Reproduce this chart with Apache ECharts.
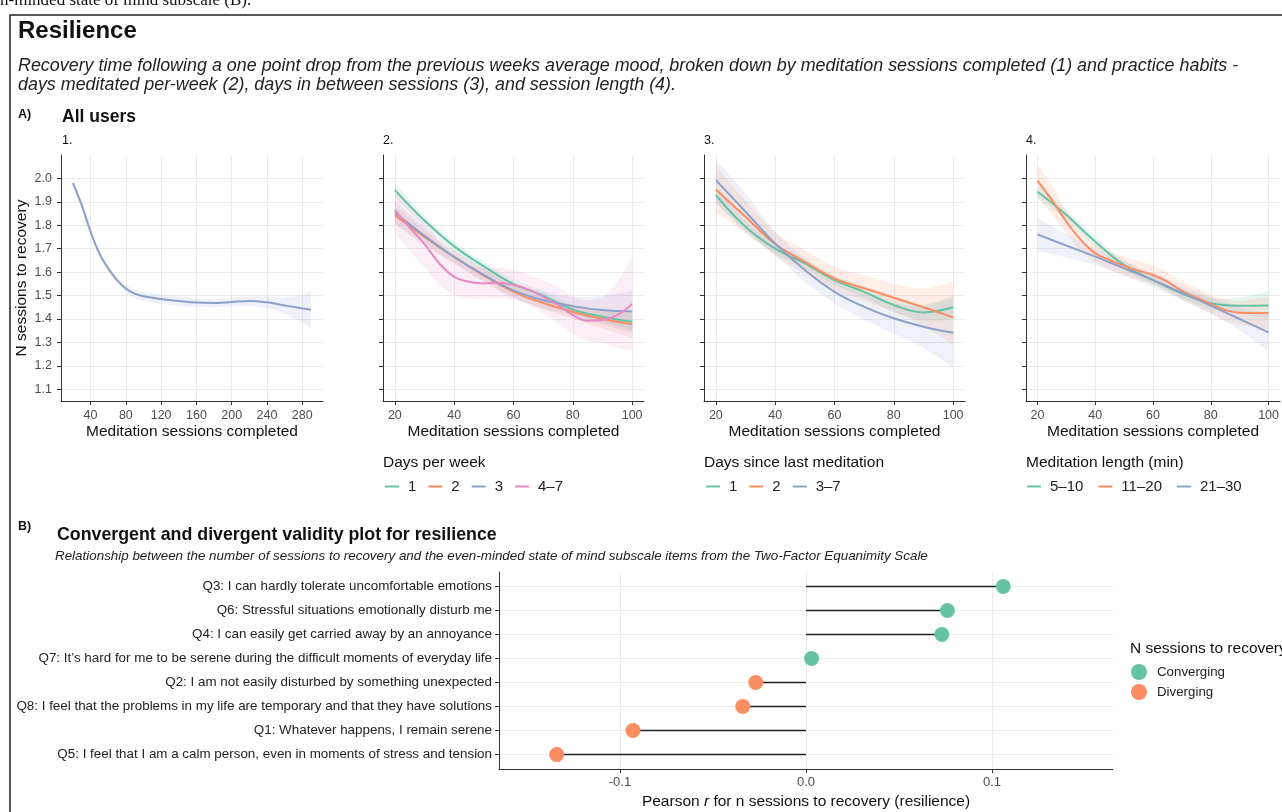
<!DOCTYPE html>
<html><head><meta charset="utf-8">
<script src="https://cdn.jsdelivr.net/npm/echarts@6/dist/echarts.min.js"></script>
<style>html,body{margin:0;padding:0;background:#fff}#c{width:1282px;height:812px}</style>
</head><body><div id="c"></div>
<script>
const FONT = '"Liberation Sans", Arial, Helvetica, sans-serif';
const SERIF = '"Liberation Serif", "Times New Roman", serif';

// ---------- Panel A data ----------
const yTicks = [1.1,1.2,1.3,1.4,1.5,1.6,1.7,1.8,1.9,2.0];
const p1Ticks = [40,80,120,160,200,240,280];
const pTicks = [20,40,60,80,100];

// Panel 1: all users
const p1X = [20,30,40,50,60,70,80,90,100,120,140,160,180,200,220,240,260,280,290];
const p1Mean = [1.98,1.886,1.773,1.68,1.616,1.566,1.53,1.508,1.497,1.485,1.477,1.470,1.468,1.473,1.477,1.471,1.458,1.445,1.44];
const p1Lo = [1.96,1.871,1.761,1.668,1.604,1.554,1.515,1.490,1.477,1.465,1.457,1.452,1.450,1.455,1.457,1.446,1.423,1.385,1.36];
const p1Hi = [2.0,1.901,1.785,1.692,1.628,1.578,1.545,1.526,1.517,1.505,1.497,1.488,1.486,1.491,1.497,1.496,1.493,1.505,1.52];

const xs10 = [20,30,40,50,60,70,80,90,100];
const xs5 = [20,25,30,35,40,45,50,55,60,65,70,75,80,85,90,95,100];

// Panel 2: days per week
const p2Names = ['1','2','3','4\u20137'];
const p2g1Mean = [1.95,1.82,1.71,1.625,1.549,1.50,1.44,1.41,1.388];
const p2g1Lo = [1.92,1.80,1.69,1.605,1.529,1.48,1.42,1.385,1.353];
const p2g1Hi = [1.98,1.84,1.73,1.645,1.569,1.52,1.46,1.435,1.423];
const p2g2Mean = [1.843,1.75,1.665,1.585,1.516,1.468,1.43,1.40,1.378];
const p2g2Lo = [1.803,1.72,1.64,1.56,1.491,1.443,1.40,1.36,1.318];
const p2g2Hi = [1.883,1.78,1.69,1.61,1.541,1.493,1.46,1.44,1.438];
const p2g3Mean = [1.855,1.755,1.665,1.588,1.522,1.48,1.455,1.438,1.432];
const p2g3Lo = [1.805,1.715,1.635,1.558,1.492,1.445,1.415,1.378,1.342];
const p2g3Hi = [1.905,1.795,1.695,1.618,1.552,1.515,1.495,1.498,1.522];
const p2g4Mean = [1.865,1.79,1.72,1.637,1.58,1.559,1.552,1.555,1.545,1.526,1.495,1.46,1.417,1.393,1.396,1.417,1.464];
const p2g4Lo = [1.765,1.69,1.62,1.547,1.50,1.489,1.487,1.49,1.48,1.461,1.425,1.385,1.337,1.308,1.296,1.277,1.264];
const p2g4Hi = [1.965,1.89,1.82,1.727,1.66,1.629,1.617,1.62,1.61,1.591,1.565,1.535,1.497,1.478,1.496,1.557,1.664];

// Panel 3: days since last meditation
const p3Names = ['1','2','3\u20137'];
const p3g1Mean = [1.929,1.794,1.70,1.637,1.566,1.516,1.46,1.428,1.45];
const p3g1Lo = [1.899,1.769,1.68,1.617,1.546,1.491,1.43,1.393,1.40];
const p3g1Hi = [1.959,1.819,1.72,1.657,1.586,1.541,1.49,1.463,1.50];
const p3g2Mean = [1.953,1.836,1.72,1.644,1.573,1.531,1.491,1.45,1.407];
const p3g2Lo = [1.853,1.766,1.67,1.594,1.523,1.476,1.431,1.37,1.287];
const p3g2Hi = [2.053,1.906,1.77,1.694,1.623,1.586,1.551,1.53,1.56];
const p3g3Mean = [1.993,1.858,1.722,1.609,1.516,1.452,1.403,1.367,1.341];
const p3g3Lo = [1.893,1.778,1.672,1.559,1.466,1.397,1.338,1.277,1.191];
const p3g3Hi = [2.08,1.938,1.772,1.659,1.566,1.507,1.468,1.457,1.491];

// Panel 4: meditation length
const p4Names = ['5\u201310','11\u201320','21\u201330'];
const p4g1Mean = [1.943,1.844,1.73,1.63,1.566,1.509,1.467,1.457,1.458];
const p4g1Lo = [1.913,1.824,1.71,1.61,1.546,1.489,1.442,1.422,1.398];
const p4g1Hi = [1.973,1.864,1.75,1.65,1.586,1.529,1.492,1.492,1.518];
const p4g2Mean = [1.99,1.907,1.815,1.737,1.68,1.652,1.626,1.606,1.588,1.559,1.52,1.492,1.464,1.438,1.427,1.426,1.426];
const p4g2Lo = [1.92,1.847,1.765,1.692,1.64,1.612,1.586,1.566,1.548,1.519,1.48,1.452,1.424,1.393,1.377,1.366,1.356];
const p4g2Hi = [2.06,1.967,1.865,1.782,1.72,1.692,1.666,1.646,1.628,1.599,1.56,1.532,1.504,1.483,1.477,1.486,1.496];
const p4g3Mean = [1.761,1.713,1.666,1.616,1.566,1.512,1.457,1.40,1.343];
const p4g3Lo = [1.691,1.663,1.631,1.586,1.536,1.482,1.422,1.35,1.263];
const p4g3Hi = [1.831,1.763,1.701,1.646,1.596,1.542,1.492,1.45,1.423];

// ---------- Panel B data ----------
const qLabels = [
  'Q3: I can hardly tolerate uncomfortable emotions',
  'Q6: Stressful situations emotionally disturb me',
  'Q4: I can easily get carried away by an annoyance',
  'Q7: It\u2019s hard for me to be serene during the difficult moments of everyday life',
  'Q2: I am not easily disturbed by something unexpected',
  'Q8: I feel that the problems in my life are temporary and that they have solutions',
  'Q1: Whatever happens, I remain serene',
  'Q5: I feel that I am a calm person, even in moments of stress and tension'
];
const qR = [0.106,0.076,0.073,0.003,-0.027,-0.034,-0.093,-0.134];
const qGroup = ['Converging','Converging','Converging','Converging','Diverging','Diverging','Diverging','Diverging'];
const rTicks = [-0.1,0,0.1];

// ---------- styles ----------
const C = {green:'#66C2A5', orange:'#FC8D62', blue:'#8DA0CB', pink:'#E78AC3'};
const AX = '#333';
const GRIDC = '#EBEBEB';
const LBL = '#4D4D4D';

const chart = echarts.init(document.getElementById('c'));

const grids = [
  {left:61, top:155, width:262, height:246},
  {left:383, top:155, width:261, height:246},
  {left:704, top:155, width:261, height:246},
  {left:1026, top:155, width:261, height:246},
  {left:499, top:572, width:614, height:197}
];

function xAxisPanel(gi, min, max, ticks) {
  return {type:'value', gridIndex:gi, min:min, max:max,
    name:'Meditation sessions completed', nameLocation:'middle', nameGap:23,
    nameTextStyle:{fontFamily:FONT, fontSize:15.5, color:'#111'},
    axisLine:{show:true, onZero:false, lineStyle:{color:AX, width:1}},
    axisTick:{show:true, length:4, lineStyle:{color:AX}, customValues:ticks},
    axisLabel:{show:true, margin:8, fontFamily:FONT, fontSize:12.5, color:LBL, customValues:ticks},
    splitLine:{show:true, lineStyle:{color:GRIDC, width:1}}};
}
function yAxisPanel(gi, showLabel) {
  const a = {type:'value', gridIndex:gi, min:1.05, max:2.1,
    axisLine:{show:true, onZero:false, lineStyle:{color:AX, width:1}},
    axisTick:{show:true, length:4, lineStyle:{color:AX}, customValues:yTicks},
    axisLabel:{show:showLabel, margin:9, fontFamily:FONT, fontSize:12.5, color:LBL, customValues:yTicks,
      formatter:function(v){return Number(v).toFixed(1);}},
    splitLine:{show:true, lineStyle:{color:GRIDC, width:1}}};
  if (showLabel) {
    a.name = 'N sessions to recovery'; a.nameLocation = 'middle'; a.nameGap = 31;
    a.nameTextStyle = {fontFamily:FONT, fontSize:15.5, color:'#111'};
  }
  return a;
}

function hexA(hex, a) {
  const n = parseInt(hex.slice(1), 16);
  return 'rgba(' + ((n >> 16) & 255) + ',' + ((n >> 8) & 255) + ',' + (n & 255) + ',' + a + ')';
}
// Catmull-Rom spline through screen points -> SVG cubic segments
function curveTo(p) {
  let s = '';
  for (let i = 0; i < p.length - 1; i++) {
    const p0 = p[i - 1] || p[i], p1 = p[i], p2 = p[i + 1], p3 = p[i + 2] || p[i + 1];
    const c1 = [p1[0] + (p2[0] - p0[0]) / 6, p1[1] + (p2[1] - p0[1]) / 6];
    const c2 = [p2[0] - (p3[0] - p1[0]) / 6, p2[1] - (p3[1] - p1[1]) / 6];
    s += ' C' + c1[0] + ',' + c1[1] + ' ' + c2[0] + ',' + c2[1] + ' ' + p2[0] + ',' + p2[1];
  }
  return s;
}

function smoothSeries(gi, name, xs, mean, lo, hi, color) {
  return [
    {type:'custom', name:'band ' + gi + ' ' + name, xAxisIndex:gi, yAxisIndex:gi, silent:true, z:1, clip:true,
      data:xs.map(function(x,i){return [x, lo[i], hi[i]];}),
      encode:{x:0, y:[1,2]},
      renderItem:function(params, api){
        if (params.dataIndex !== 0) return {type:'group', children:[]};
        const up = xs.map(function(x,i){return api.coord([x, hi[i]]);});
        const dn = xs.map(function(x,i){return api.coord([x, lo[i]]);}).reverse();
        const d = 'M' + up[0][0] + ',' + up[0][1] + curveTo(up) +
                  ' L' + dn[0][0] + ',' + dn[0][1] + curveTo(dn) + ' Z';
        return {type:'path', shape:{pathData:d}, style:{fill:hexA(color, 0.15), stroke:null}};
      }},
    {type:'line', name:name, xAxisIndex:gi, yAxisIndex:gi, smooth:0.4, symbol:'none',
      lineStyle:{color:color, width:2}, itemStyle:{color:color},
      data:xs.map(function(x,i){return [x, mean[i]];}), z:3}
  ];
}

let series = [];
series = series.concat(smoothSeries(0, 'All users', p1X, p1Mean, p1Lo, p1Hi, C.blue));
series = series.concat(smoothSeries(1, p2Names[0], xs10, p2g1Mean, p2g1Lo, p2g1Hi, C.green));
series = series.concat(smoothSeries(1, p2Names[1], xs10, p2g2Mean, p2g2Lo, p2g2Hi, C.orange));
series = series.concat(smoothSeries(1, p2Names[2], xs10, p2g3Mean, p2g3Lo, p2g3Hi, C.blue));
series = series.concat(smoothSeries(1, p2Names[3], xs5, p2g4Mean, p2g4Lo, p2g4Hi, C.pink));
series = series.concat(smoothSeries(2, p3Names[0], xs10, p3g1Mean, p3g1Lo, p3g1Hi, C.green));
series = series.concat(smoothSeries(2, p3Names[1], xs10, p3g2Mean, p3g2Lo, p3g2Hi, C.orange));
series = series.concat(smoothSeries(2, p3Names[2], xs10, p3g3Mean, p3g3Lo, p3g3Hi, C.blue));
series = series.concat(smoothSeries(3, p4Names[0], xs10, p4g1Mean, p4g1Lo, p4g1Hi, C.green));
series = series.concat(smoothSeries(3, p4Names[1], xs5, p4g2Mean, p4g2Lo, p4g2Hi, C.orange));
series = series.concat(smoothSeries(3, p4Names[2], xs10, p4g3Mean, p4g3Lo, p4g3Hi, C.blue));

// Panel B: lollipop segments
series.push({type:'custom', name:'segments', xAxisIndex:4, yAxisIndex:4, silent:true, z:2,
  data:qR.map(function(r,i){return [r, i+1];}),
  renderItem:function(params, api){
    const p0 = api.coord([0, api.value(1)]);
    const p1 = api.coord([api.value(0), api.value(1)]);
    return {type:'line', shape:{x1:p0[0], y1:p0[1], x2:p1[0], y2:p1[1]},
      style:{stroke:'#222', lineWidth:1.5}};
  }});
['Converging','Diverging'].forEach(function(g){
  series.push({type:'scatter', name:g, xAxisIndex:4, yAxisIndex:4, symbolSize:15, z:4,
    itemStyle:{color: g === 'Converging' ? C.green : C.orange, opacity:1},
    data:qR.map(function(r,i){return qGroup[i] === g ? [r, i+1] : null;}).filter(function(d){return d;})});
});

function legendPanel(names, left, gap) {
  return {data:names, left:left, top:479, orient:'horizontal', icon:'rect', itemWidth:14, itemHeight:2,
    itemGap:gap, padding:0, selectedMode:false,
    textStyle:{fontFamily:FONT, fontSize:15, color:'#222', padding:[0,0,0,4]}};
}

function txt(x, y, text, size, opts) {
  opts = opts || {};
  return {type:'text', x:x, y:y, silent:true, z:10,
    style:{text:text, fill:opts.fill || '#111', fontFamily:opts.family || FONT, fontSize:size,
      fontWeight:opts.weight || 'normal', fontStyle:opts.style || 'normal',
      align:opts.align || 'left', verticalAlign:opts.va || 'middle'}};
}

const graphics = [
  {type:'rect', silent:true, shape:{x:10, y:15, width:1400, height:900},
    style:{fill:'none', stroke:'#222', lineWidth:1.5}},
  txt(0, 9, 'n-minded state of mind subscale (B).', 17, {family:SERIF, va:'bottom'}),
  txt(18, 31, 'Resilience', 24, {weight:'bold'}),
  txt(18, 66, 'Recovery time following a one point drop from the previous weeks average mood, broken down by meditation sessions completed (1) and practice habits -', 17.9, {style:'italic', fill:'#222'}),
  txt(18, 85, 'days meditated per-week (2), days in between sessions (3), and session length (4).', 17.9, {style:'italic', fill:'#222'}),
  txt(18, 115, 'A)', 12.5, {weight:'bold'}),
  txt(62, 117, 'All users', 17.5, {weight:'bold'}),
  txt(62, 141, '1.', 12.5),
  txt(383, 141, '2.', 12.5),
  txt(704, 141, '3.', 12.5),
  txt(1026, 141, '4.', 12.5),
  txt(383, 463, 'Days per week', 15.5),
  txt(704, 463, 'Days since last meditation', 15.5),
  txt(1026, 463, 'Meditation length (min)', 15.5),
  txt(18, 527, 'B)', 12.5, {weight:'bold'}),
  txt(57, 535, 'Convergent and divergent validity plot for resilience', 17.8, {weight:'bold'}),
  txt(55, 556, 'Relationship between the number of sessions to recovery and the even-minded state of mind subscale items from the Two-Factor Equanimity Scale', 13.4, {style:'italic', fill:'#222'}),
  txt(1130, 649, 'N sessions to recovery', 15.5)
];

const option = {
  animation:false,
  backgroundColor:'#fff',
  textStyle:{fontFamily:FONT},
  grid:grids,
  xAxis:[
    xAxisPanel(0, 6.5, 303.5, p1Ticks),
    xAxisPanel(1, 16, 104, pTicks),
    xAxisPanel(2, 16, 104, pTicks),
    xAxisPanel(3, 16, 104, pTicks),
    {type:'value', gridIndex:4, min:-0.165, max:0.165,
      name:'Pearson {i|r} for n sessions to recovery (resilience)', nameLocation:'middle', nameGap:25,
      nameTextStyle:{fontFamily:FONT, fontSize:15.5, color:'#111',
        rich:{i:{fontFamily:FONT, fontSize:15.5, fontStyle:'italic', color:'#111'}}},
      axisLine:{show:true, onZero:false, lineStyle:{color:AX, width:1}},
      axisTick:{show:true, length:4, lineStyle:{color:AX}, customValues:rTicks},
      axisLabel:{show:true, margin:7, fontFamily:FONT, fontSize:13, color:LBL, customValues:rTicks,
        formatter:function(v){return Number(v).toFixed(1);}},
      splitLine:{show:true, lineStyle:{color:GRIDC, width:1}}}
  ],
  yAxis:[
    yAxisPanel(0, true), yAxisPanel(1, false), yAxisPanel(2, false), yAxisPanel(3, false),
    {type:'value', gridIndex:4, min:0.4, max:8.6, inverse:true,
      axisLine:{show:true, onZero:false, lineStyle:{color:AX, width:1}},
      axisTick:{show:true, length:4, lineStyle:{color:AX}, customValues:[1,2,3,4,5,6,7,8]},
      axisLabel:{show:true, margin:7, fontFamily:FONT, fontSize:13.4, color:'#222', customValues:[1,2,3,4,5,6,7,8],
        formatter:function(v){return qLabels[Math.round(v)-1] || '';}},
      splitLine:{show:true, lineStyle:{color:GRIDC, width:1}}}
  ],
  legend:[
    legendPanel(p2Names, 385, 12),
    legendPanel(p3Names, 706, 12),
    legendPanel(p4Names, 1027, 15),
    {data:['Converging','Diverging'], left:1131, top:664, orient:'vertical', icon:'circle',
      itemWidth:16, itemHeight:16, itemGap:4, padding:0, selectedMode:false,
      textStyle:{fontFamily:FONT, fontSize:13.3, color:'#222', padding:[0,0,0,5]}}
  ],
  graphic:graphics,
  series:series
};
chart.setOption(option);
</script>
</body></html>
